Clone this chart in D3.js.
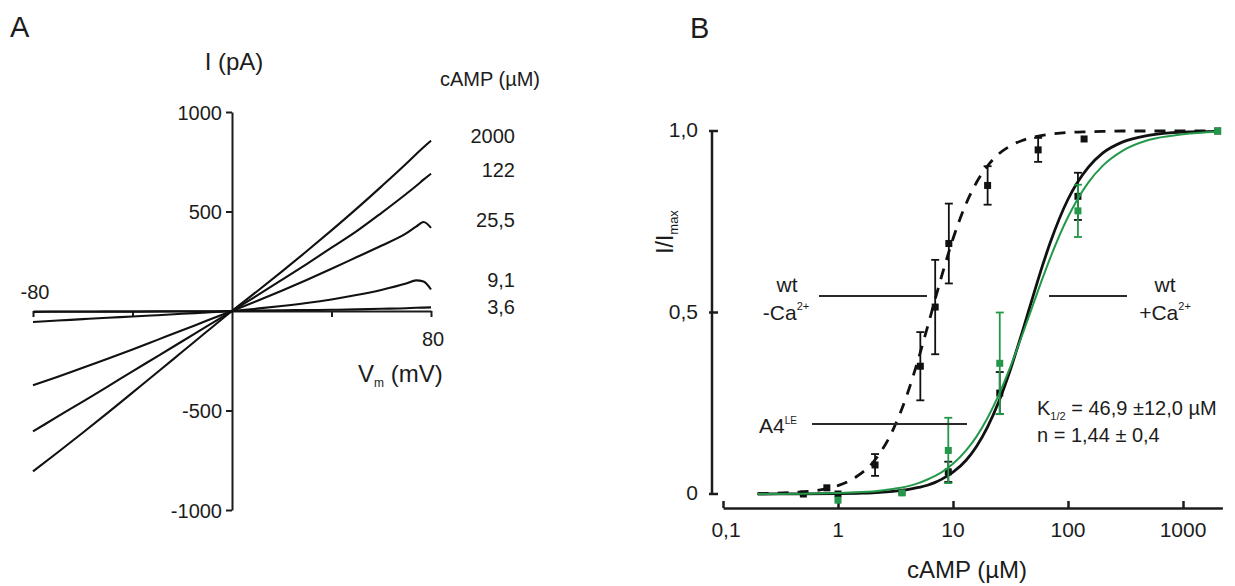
<!DOCTYPE html>
<html><head><meta charset="utf-8">
<script src="https://cdn.jsdelivr.net/npm/d3@7"></script>
<style>
body{margin:0;background:#fff}
svg{display:block;font-family:"Liberation Sans",Arial,sans-serif;fill:#1c1c1c}
</style>
</head><body>
<svg id="chart" width="1235" height="586"></svg>
<script>
// ---------------- Panel A : I-V traces ----------------
const voltages   = [-80,-70,-60,-50,-40,-30,-20,-10,0,10,20,30,40,50,60,70,74,77,80];
const trace2000  = [-806,-710,-612,-512,-410,-308,-205,-102,0,98,198,300,405,513,625,740,788,823,856];
const trace122   = [-605,-530,-455,-380,-303,-228,-152,-76,0,77,156,236,318,400,492,588,628,660,690];
const trace25_5  = [-373,-330,-285,-240,-193,-145,-97,-48,0,50,102,156,212,270,328,390,424,447,418];
const trace9_1   = [-55,-48,-41,-34,-28,-21,-14,-7,0,12,25,40,58,80,106,138,154,148,108];
const trace3_6   = [-5,-4,-4,-3,-3,-2,-1,-1,0,2,4,5,6,8,11,14,16,17,18];
const traceNames = ["2000","122","25,5","9,1","3,6"];
const yTicksA = [1000,500,-500,-1000];
const xTicksA = [-80,-40,40,80];

// ---------------- Panel B : dose-response ----------------
const concFit = [0.2,0.5,1,1.5,2,3,4,5,6,7,8,10,13,16,20,25,30,40,50,60,70,100,150,200,300,500,1000,2000];
const fitNoCa = [0.001,0.006,0.023,0.051,0.086,0.176,0.275,0.372,0.460,0.537,0.602,0.703,0.800,0.858,0.904,0.937,0.955,0.974,0.983,0.988,0.991,0.996,0.998,0.999,1,1,1,1];
const fitCa   = [0,0.0003,0.001,0.002,0.003,0.007,0.012,0.018,0.024,0.032,0.041,0.060,0.093,0.131,0.185,0.254,0.322,0.446,0.548,0.629,0.692,0.812,0.900,0.939,0.970,0.988,0.997,0.999];
const fitLE   = [0,0.001,0.003,0.005,0.007,0.014,0.021,0.030,0.040,0.050,0.060,0.083,0.120,0.158,0.210,0.273,0.333,0.438,0.524,0.594,0.650,0.763,0.858,0.904,0.946,0.975,0.991,0.998];

const concNoCa = [0.5,0.8,2.1,5.2,7,9.2,20,55,138];
const normNoCa = [0.0,0.017,0.08,0.352,0.515,0.69,0.85,0.948,0.978];
const errNoCa  = [0,0,0.03,0.094,0.13,0.11,0.053,0.033,0];
const concPts  = [1,3.6,9.1,25.5,122,2000];
const normCa   = [0.0,0.005,0.061,0.278,0.82,1.0];
const errCa    = [0,0,0.028,0.058,0.065,0];
const normLE   = [-0.017,0.003,0.12,0.36,0.78,1.0];
const errLE    = [0,0,0.09,0.14,0.072,0];
const xTicksB = [0.1,1,10,100,1000];
const xTickLabelsB = ["0,1","1","10","100","1000"];
const yTicksB = [0,0.5,1];
const yTickLabelsB = ["0","0,5","1,0"];

const GREEN = "#23984a";
const INK = "#1c1c1c";
const svg = d3.select("#chart");
svg.append("rect").attr("width",1235).attr("height",586).attr("fill","#fff");

// ============ Panel A ============
const xA = d3.scaleLinear().domain([-80,80]).range([33,431]);
const yA = d3.scaleLinear().domain([-1000,1000]).range([510,112]);
const gA = svg.append("g");

const yAxA = d3.axisLeft(yA).tickValues(yTicksA).tickSize(6).tickSizeOuter(0).tickFormat(d=>d);
gA.append("g").attr("transform",`translate(${xA(0)},0)`).call(yAxA)
  .call(g=>{g.selectAll("text").attr("font-size",20).attr("fill",INK).attr("dx",-1).attr("dy","0.36em");
            g.selectAll("line,path").attr("stroke",INK).attr("stroke-width",2);});
const xAxA = d3.axisBottom(xA).tickValues(xTicksA).tickSize(6).tickSizeOuter(0).tickFormat("");
gA.append("g").attr("transform",`translate(0,${yA(0)})`).call(xAxA)
  .call(g=>g.selectAll("line,path").attr("stroke",INK).attr("stroke-width",2));

const traces = [trace2000,trace122,trace25_5,trace9_1,trace3_6];
const lineA = d3.line().x((d,i)=>xA(voltages[i])).y(d=>yA(d)).curve(d3.curveMonotoneX);
traces.forEach(t=>{
  gA.append("path").attr("d",lineA(t)).attr("fill","none")
    .attr("stroke","#111").attr("stroke-width",2.1).attr("stroke-linejoin","round");
});

const labelBaselines = [143,177,227,287,314];
traceNames.forEach((n,i)=>{
  gA.append("text").attr("x",515).attr("y",labelBaselines[i]).attr("text-anchor","end")
    .attr("font-size",20).text(n);
});
svg.append("text").attr("x",10).attr("y",37).attr("font-size",29).text("A");
gA.append("text").attr("x",234).attr("y",70).attr("text-anchor","middle").attr("font-size",24).text("I (pA)");
gA.append("text").attr("x",540).attr("y",86).attr("text-anchor","end").attr("font-size",20).text("cAMP (µM)");
gA.append("text").attr("x",xA(-80)+2).attr("y",299).attr("text-anchor","middle").attr("font-size",20).text("-80");
gA.append("text").attr("x",xA(80)+2).attr("y",346).attr("text-anchor","middle").attr("font-size",20).text("80");
const vm = gA.append("text").attr("x",358).attr("y",382).attr("font-size",24);
vm.append("tspan").text("V");
vm.append("tspan").attr("font-size",12).attr("dy",5).text("m");
vm.append("tspan").attr("dy",-5).text(" (mV)");

// ============ Panel B ============
const xB = d3.scaleLog().domain([0.1,2200]).range([723,723+115*Math.log10(22000)]);
const yB = d3.scaleLinear().domain([0,1]).range([494,131]);
const gB = svg.append("g");

svg.append("text").attr("x",690).attr("y",38).attr("font-size",29).text("B");

gB.append("line").attr("x1",712).attr("x2",712).attr("y1",yB(1)).attr("y2",yB(0))
  .attr("stroke",INK).attr("stroke-width",2.5);
yTicksB.forEach((v,i)=>{
  gB.append("line").attr("x1",709).attr("x2",718).attr("y1",yB(v)).attr("y2",yB(v))
    .attr("stroke",INK).attr("stroke-width",2.5);
  gB.append("text").attr("x",698).attr("y",yB(v)+6).attr("text-anchor","end")
    .attr("font-size",21).text(yTickLabelsB[i]);
});
const xAxB = d3.axisTop(xB).tickValues(xTicksB).tickSize(7).tickSizeOuter(0).tickFormat("");
gB.append("g").attr("transform","translate(0,508)").call(xAxB)
  .call(g=>g.selectAll("line,path").attr("stroke",INK).attr("stroke-width",2.5));
xTicksB.forEach((v,i)=>{
  gB.append("text").attr("x",xB(v)+(i===0?3:0)).attr("y",537).attr("text-anchor","middle")
    .attr("font-size",21).text(xTickLabelsB[i]);
});
gB.append("text").attr("x",967).attr("y",578).attr("text-anchor","middle").attr("font-size",24).text("cAMP (µM)");
const yl = gB.append("text").attr("transform","translate(673,232) rotate(-90)")
  .attr("text-anchor","middle").attr("font-size",23);
yl.append("tspan").text("I/I");
yl.append("tspan").attr("font-size",13).attr("dy",5).text("max");

const lineB = vals => d3.line().x((d,i)=>xB(concFit[i])).y(d=>yB(d)).curve(d3.curveMonotoneX)(vals);
gB.append("path").attr("d",lineB(fitNoCa)).attr("fill","none").attr("stroke","#111")
  .attr("stroke-width",2.8).attr("stroke-dasharray","11,9");
gB.append("path").attr("d",lineB(fitCa)).attr("fill","none").attr("stroke","#111").attr("stroke-width",2.8);

function drawPts(conc, vals, errs, color){
  conc.forEach((c,i)=>{
    const x = xB(c), y = yB(vals[i]);
    if (errs[i] > 0){
      const y1 = yB(vals[i]+errs[i]), y2 = yB(vals[i]-errs[i]);
      gB.append("line").attr("x1",x).attr("x2",x).attr("y1",y1).attr("y2",y2).attr("stroke",color).attr("stroke-width",1.8);
      [y1,y2].forEach(yy=>gB.append("line").attr("x1",x-4).attr("x2",x+4).attr("y1",yy).attr("y2",yy)
        .attr("stroke",color).attr("stroke-width",1.8));
    }
    gB.append("rect").attr("x",x-3.5).attr("y",y-3.5).attr("width",7).attr("height",7).attr("fill",color);
  });
}
drawPts(concNoCa, normNoCa, errNoCa, "#111");
drawPts(concPts, normCa, errCa, "#111");
gB.append("path").attr("d",lineB(fitLE)).attr("fill","none").attr("stroke",GREEN).attr("stroke-width",2);
drawPts(concPts, normLE, errLE, GREEN);

const annLine = (x1,x2,y)=>gB.append("line").attr("x1",x1).attr("x2",x2).attr("y1",y).attr("y2",y)
  .attr("stroke","#2a2a2a").attr("stroke-width",2);
annLine(819,927,296);
annLine(1049,1127,296);
annLine(812,967,424);
gB.append("text").attr("x",787).attr("y",292).attr("text-anchor","middle").attr("font-size",21).text("wt");
const c1 = gB.append("text").attr("x",786).attr("y",320).attr("text-anchor","middle").attr("font-size",21);
c1.append("tspan").text("-Ca");
c1.append("tspan").attr("font-size",11).attr("dy",-10).text("2+");
gB.append("text").attr("x",1165).attr("y",292).attr("text-anchor","middle").attr("font-size",21).text("wt");
const c2 = gB.append("text").attr("x",1165).attr("y",320).attr("text-anchor","middle").attr("font-size",21);
c2.append("tspan").text("+Ca");
c2.append("tspan").attr("font-size",11).attr("dy",-10).text("2+");
const a4 = gB.append("text").attr("x",759).attr("y",433).attr("font-size",21);
a4.append("tspan").text("A4");
a4.append("tspan").attr("font-size",10).attr("dy",-9).text("LE");
const k = gB.append("text").attr("x",1037).attr("y",415).attr("font-size",20);
k.append("tspan").text("K");
k.append("tspan").attr("font-size",11).attr("dy",5).text("1/2");
k.append("tspan").attr("dy",-5).text(" = 46,9 ±12,0 µM");
gB.append("text").attr("x",1037).attr("y",442).attr("font-size",20).text("n = 1,44 ± 0,4");
</script>
</body></html>
